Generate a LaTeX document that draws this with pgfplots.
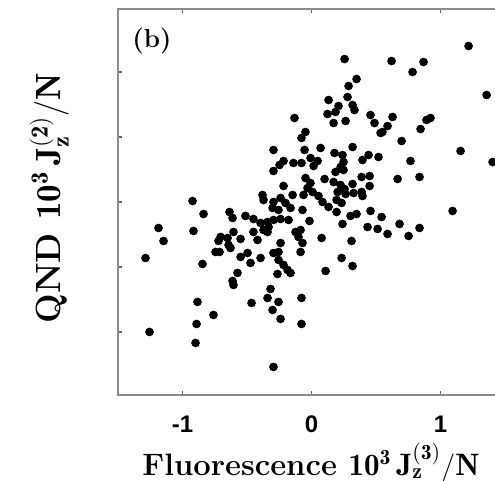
\documentclass[border=0pt]{standalone}
\usepackage{fontspec}
\usepackage{pgfplots}
\pgfplotsset{compat=1.18}
\newfontfamily\hv{Liberation Sans}
\begin{document}
\begin{tikzpicture}
\begin{axis}[
  scale only axis, width=200pt, height=193pt,
  xmin=-1.5, xmax=1.6, ymin=-2.97, ymax=2.97,
  xtick={-1,0,1}, xticklabels={{-1},{0},{1}},
  ytick={-2,-1,0,1,2}, yticklabels={},
  tick align=inside, major tick length=2pt,
  tick style={black!60, line width=0.6pt},
  axis line style={black!45, line width=1pt},
  xticklabel style={font=\fontsize{12}{14}\selectfont\hv\bfseries, yshift=-7pt},
  xlabel={\bfseries Fluorescence $\mathbf{10^3\,J_z^{(3)}/N}$},
  ylabel={\bfseries QND $\mathbf{10^3\,J_z^{(2)}/N}$},
  xlabel style={font=\fontsize{15.5}{17}\selectfont, at={(axis description cs:0.4825,-0.176)}, anchor=center},
  ylabel style={font=\fontsize{17.5}{19}\selectfont, at={(axis description cs:-0.172,0.51)}, anchor=center},
  clip=false,
]
\addplot[only marks, mark=*, mark size=1.95pt, black] table {
x y
-1.287 -0.862
-1.256 -2.000
-1.186 -0.400
-1.147 -0.600
-0.922 0.015
-0.915 -0.446
-0.884 -1.538
-0.891 -1.877
-0.899 -2.169
-0.845 -0.954
-0.837 -0.185
-0.760 -1.738
-0.744 -0.769
-0.713 -0.769
-0.705 -0.538
-0.651 -0.554
-0.721 -0.600
-0.643 -0.662
-0.628 -0.708
-0.636 -0.154
-0.612 -0.246
-0.605 -0.462
-0.550 -0.569
-0.574 -1.092
-0.612 -1.215
-0.605 -1.277
-0.512 -0.215
-0.450 -0.262
-0.395 -0.323
-0.341 -0.308
-0.295 -0.277
-0.240 -0.262
-0.178 -0.277
-0.333 -0.385
-0.372 -0.431
-0.450 -0.462
-0.419 -0.585
-0.341 -0.462
-0.550 -0.846
-0.496 -0.785
-0.473 -0.938
-0.395 -0.862
-0.295 -0.785
-0.256 -0.769
-0.256 -0.892
-0.217 -0.969
-0.186 -1.046
-0.163 -1.092
-0.264 -1.108
-0.240 -0.631
-0.124 -0.462
-0.085 -0.431
-0.101 -0.538
-0.070 -0.631
-0.085 -0.769
-0.318 -1.338
-0.341 -1.477
-0.256 -1.538
-0.465 -1.554
-0.302 -1.662
-0.240 -1.800
-0.078 -1.477
-0.078 -1.877
-0.295 -2.538
-0.380 0.108
-0.372 0.031
-0.295 0.000
-0.240 0.062
-0.147 0.108
-0.202 -0.015
-0.163 -0.092
-0.302 -0.092
-0.256 -0.123
-0.070 -0.123
0.132 1.569
0.209 1.477
0.124 1.354
0.186 1.385
0.171 1.215
0.264 1.246
-0.132 1.292
-0.047 1.077
-0.078 0.985
-0.295 0.800
-0.054 0.800
0.070 0.831
-0.217 0.631
-0.248 0.569
-0.295 0.477
-0.140 0.600
-0.078 0.600
-0.008 0.677
0.047 0.631
0.016 0.554
0.178 0.754
0.240 0.723
0.225 0.538
0.248 0.492
0.186 0.462
-0.047 0.369
-0.008 0.292
-0.031 0.215
0.101 0.354
-0.217 0.246
0.171 0.308
0.225 0.262
0.256 0.200
-0.062 0.108
0.054 0.092
0.202 0.154
0.279 1.615
0.318 1.492
0.333 1.415
0.256 2.200
0.620 2.169
0.868 2.154
0.783 2.000
0.349 1.892
0.287 1.785
1.217 2.400
1.357 1.646
0.457 1.338
0.488 1.215
0.535 1.062
0.628 1.308
0.589 1.169
0.550 1.077
0.891 1.262
0.922 1.292
0.845 1.123
0.698 0.938
1.155 0.785
0.318 0.846
0.248 0.615
0.395 0.646
0.442 0.723
0.519 0.692
0.767 0.631
1.403 0.615
0.667 0.354
0.837 0.385
0.388 0.385
0.450 0.400
0.450 0.246
0.318 0.277
0.264 0.123
0.326 0.138
0.388 0.154
0.395 0.092
0.008 0.154
0.085 0.000
0.194 0.031
0.233 -0.015
0.132 -0.077
0.194 -0.154
-0.016 -0.292
0.240 -0.338
0.302 -0.215
0.349 -0.185
0.457 -0.138
0.543 -0.231
0.434 -0.385
0.512 -0.415
0.589 -0.492
0.682 -0.338
0.837 -0.400
0.752 -0.523
1.093 -0.138
0.078 -0.554
0.310 -0.600
0.233 -0.862
0.318 -0.985
0.109 -1.062
};
\node[anchor=north west, inner sep=0pt, font=\fontsize{13}{15}\selectfont\bfseries] at (axis description cs:0.035,0.953) {(b)};
\coordinate (bl) at (rel axis cs:0,0);
\coordinate (tl) at (rel axis cs:0,1);
\end{axis}
\pgfresetboundingbox
\path[use as bounding box] ([xshift=-59pt,yshift=-43pt]bl) rectangle ([xshift=188.5pt,yshift=4.5pt]tl);
\end{tikzpicture}
\end{document}
